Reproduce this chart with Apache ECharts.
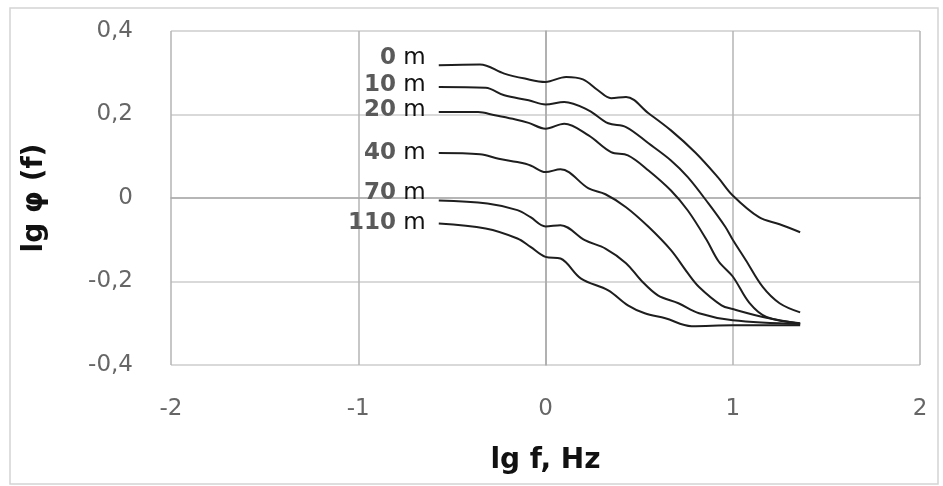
<!DOCTYPE html>
<html>
<head>
<meta charset="utf-8">
<script src="https://cdn.jsdelivr.net/npm/echarts@6/dist/echarts.min.js"></script>
<style>
  html, body { margin: 0; padding: 0; background: #fff; }
  #chart { width: 943px; height: 486px; }
</style>
</head>
<body>
<div id="chart"></div>
<script>
// depth labels
const depths = ['0 m', '10 m', '20 m', '40 m', '70 m', '110 m'];

// [lg f, lg phi]
const d0 = [[-0.57,0.318],[-0.35,0.320],[-0.22,0.298],[-0.11,0.286],[0,0.278],[0.11,0.290],[0.2,0.284],
  [0.28,0.258],[0.35,0.239],[0.43,0.242],[0.55,0.203],[0.67,0.162],[0.8,0.109],[0.92,0.05],[1.0,0.006],
  [1.14,-0.046],[1.25,-0.063],[1.36,-0.082]];
const d10 = [[-0.57,0.266],[-0.32,0.264],[-0.22,0.246],[-0.09,0.234],[0,0.224],[0.1,0.230],[0.23,0.210],
  [0.335,0.179],[0.43,0.170],[0.55,0.131],[0.67,0.090],[0.76,0.050],[0.87,-0.013],[0.96,-0.069],[1.0,-0.100],
  [1.07,-0.149],[1.16,-0.213],[1.25,-0.252],[1.36,-0.274]];
const d20 = [[-0.57,0.206],[-0.36,0.206],[-0.27,0.198],[-0.16,0.188],[-0.09,0.180],[0,0.166],[0.1,0.178],
  [0.23,0.150],[0.35,0.110],[0.44,0.102],[0.55,0.066],[0.67,0.018],[0.76,-0.030],[0.86,-0.100],[0.925,-0.152],
  [1.0,-0.188],[1.09,-0.252],[1.18,-0.285],[1.36,-0.300]];
const d40 = [[-0.57,0.108],[-0.35,0.105],[-0.25,0.094],[-0.15,0.086],[-0.08,0.078],[0,0.062],[0.08,0.069],
  [0.23,0.023],[0.32,0.009],[0.43,-0.022],[0.55,-0.069],[0.67,-0.125],[0.76,-0.180],[0.82,-0.213],
  [0.94,-0.257],[1.0,-0.266],[1.18,-0.287],[1.36,-0.301]];
const d70 = [[-0.57,-0.006],[-0.31,-0.013],[-0.15,-0.029],[-0.08,-0.046],[0,-0.068],[0.08,-0.065],
  [0.21,-0.101],[0.32,-0.121],[0.43,-0.156],[0.51,-0.197],[0.6,-0.233],[0.71,-0.252],[0.82,-0.276],
  [1.0,-0.293],[1.36,-0.302]];
const d110 = [[-0.57,-0.061],[-0.32,-0.073],[-0.15,-0.097],[-0.08,-0.117],[0,-0.141],[0.08,-0.145],
  [0.19,-0.193],[0.335,-0.221],[0.44,-0.257],[0.53,-0.276],[0.64,-0.288],[0.78,-0.307],[1.0,-0.305],
  [1.36,-0.305]];

const allData = [d0, d10, d20, d40, d70, d110];
const labelOffsets = [[0,-7],[0,-2],[0,-2],[0,0],[0,-7],[0,0]];

const series = [];
for (let i = 0; i < allData.length; i++) {
  series.push({
    name: depths[i],
    type: 'line',
    data: allData[i],
    smooth: 0.35,
    symbol: 'none',
    lineStyle: { color: '#1e1e1e', width: 2 },
    z: 3,
    // depth label at the start of each curve
    markPoint: {
      symbol: 'circle',
      symbolSize: 0,
      silent: true,
      data: [{
        coord: allData[i][0],
        label: {
          show: true,
          position: 'left',
          distance: 13,
          offset: labelOffsets[i],
          formatter: '{n|' + depths[i].replace(' m', '') + '}{m| m}',
          rich: {
            n: { fontFamily: 'DejaVu Sans', fontWeight: 'bold', fontSize: 23, color: '#5a5a5a' },
            m: { fontFamily: 'DejaVu Sans', fontSize: 23, color: '#111' }
          }
        }
      }]
    }
  });
}

const myChart = echarts.init(document.getElementById('chart'));
myChart.setOption({
  animation: false,
  backgroundColor: '#fff',
  graphic: [{
    type: 'rect',
    shape: { x: 10, y: 8, width: 928, height: 476 },
    style: { fill: 'none', stroke: '#d4d4d4', lineWidth: 1.5 },
    silent: true
  }],
  grid: { left: 171, right: 23, top: 31, bottom: 121 },
  xAxis: {
    type: 'value',
    min: -2,
    max: 2,
    interval: 1,
    name: 'lg f, Hz',
    nameLocation: 'middle',
    nameGap: 82,
    nameTextStyle: { fontFamily: 'DejaVu Sans', fontWeight: 'bold', fontSize: 28, color: '#111' },
    axisLine: { show: true, lineStyle: { color: '#aaa', width: 1.5 } },
    axisTick: { show: false },
    axisLabel: { fontFamily: 'DejaVu Sans', fontSize: 23, color: '#666', margin: 33 },
    splitLine: { show: true, lineStyle: { color: '#b4b4b4', width: 1.5 } }
  },
  yAxis: {
    type: 'value',
    min: -0.4,
    max: 0.4,
    interval: 0.2,
    name: 'lg φ (f)',
    nameLocation: 'middle',
    nameGap: 122,
    nameTextStyle: { fontFamily: 'DejaVu Sans', fontWeight: 'bold', fontSize: 28, color: '#111' },
    axisLine: { show: true, lineStyle: { color: '#aaa', width: 1.5 } },
    axisTick: { show: false },
    axisLabel: {
      fontFamily: 'DejaVu Sans',
      fontSize: 23,
      color: '#666',
      margin: 38,
      formatter: function (v) {
        if (Math.abs(v) < 1e-9) return '0';
        return v.toFixed(1).replace('.', ',');
      }
    },
    splitLine: { show: true, lineStyle: { color: '#cccccc', width: 1.5 } }
  },
  series: series
});
</script>
</body>
</html>
